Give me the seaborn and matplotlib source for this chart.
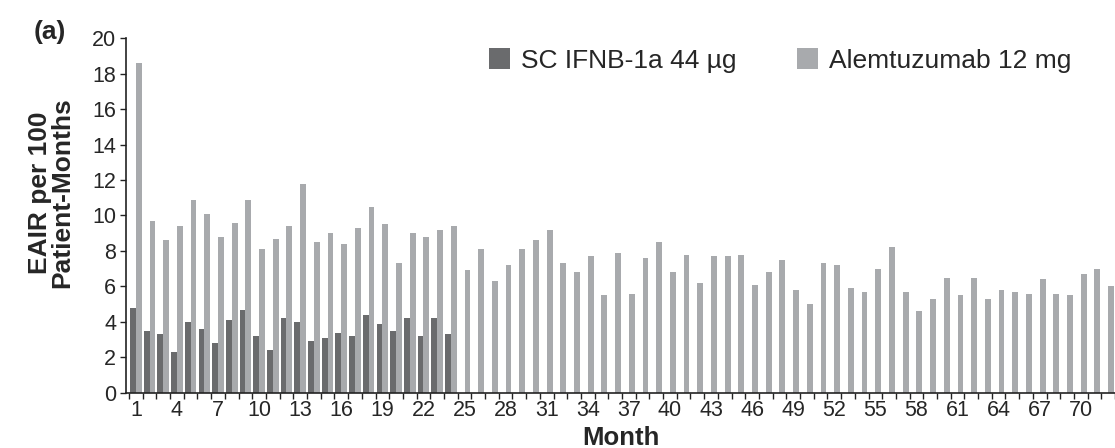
import numpy as np
import pandas as pd
import matplotlib
matplotlib.use("Agg")
import matplotlib.pyplot as plt
from matplotlib.ticker import FixedLocator
import seaborn as sns

# ── Data ────────────────────────────────────────────────────────────────────
MONTHS = list(range(1, 73))

IFNB = [4.8, 3.5, 3.3, 2.3, 4.0, 3.6, 2.8, 4.1, 4.7, 3.2, 2.4, 4.2,
        4.0, 2.9, 3.1, 3.4, 3.2, 4.4, 3.9, 3.5, 4.2, 3.2, 4.2, 3.3]

ALEM = [18.6, 9.7, 8.6, 9.4, 10.9, 10.1, 8.8, 9.6, 10.9, 8.1, 8.7, 9.4,
        11.8, 8.5, 9.0, 8.4, 9.3, 10.5, 9.5, 7.3, 9.0, 8.8, 9.2, 9.4,
        6.9, 8.1, 6.3, 7.2, 8.1, 8.6, 9.2, 7.3, 6.8, 7.7, 5.5, 7.9,
        5.6, 7.6, 8.5, 6.8, 7.8, 6.2, 7.7, 7.7, 7.8, 6.1, 6.8, 7.5,
        5.8, 5.0, 7.3, 7.2, 5.9, 5.7, 7.0, 8.2, 5.7, 4.6, 5.3, 6.5,
        5.5, 6.5, 5.3, 5.8, 5.7, 5.6, 6.4, 5.6, 5.5, 6.7, 7.0, 6.0]

SERIES = ["SC IFNB-1a 44 µg", "Alemtuzumab 12 mg"]
PALETTE = {SERIES[0]: "#6a6b6d", SERIES[1]: "#a8aaad"}
TICK_LABELS = [str(m) for m in MONTHS[::3]]

df = pd.concat([
    pd.DataFrame({"Month": MONTHS[:len(IFNB)], "EAIR": IFNB, "Group": SERIES[0]}),
    pd.DataFrame({"Month": MONTHS, "EAIR": ALEM, "Group": SERIES[1]}),
], ignore_index=True)

# ── Plot ────────────────────────────────────────────────────────────────────
sns.set_style("white")
plt.rcParams["font.family"] = ["Liberation Sans", "DejaVu Sans"]

fig = plt.figure(figsize=(11.15, 4.48), dpi=100)
ax = fig.add_axes([0.113, 0.123, 0.887, 0.792])

sns.barplot(data=df, x="Month", y="EAIR", hue="Group", hue_order=SERIES,
            palette=PALETTE, errorbar=None, width=0.85, saturation=1,
            linewidth=0, ax=ax)

ax.set_ylim(0, 20)
ax.set_yticks(np.arange(0, 21, 2))
ax.set_xlim(-0.72, 71.5)

# labels every 3 months, tick marks at every category boundary
ax.xaxis.set_major_locator(FixedLocator(np.arange(0, 72, 3)))
ax.set_xticklabels(TICK_LABELS)
ax.xaxis.set_minor_locator(FixedLocator(np.arange(-0.5, 72, 1)))
ax.tick_params(axis="x", which="major", length=0, pad=5, labelsize=15.5)
ax.tick_params(axis="x", which="minor", length=4, width=1, color="#222222",
               direction="out", bottom=True)
ax.tick_params(axis="y", length=4, width=1, color="#222222", direction="out",
               left=True, pad=3, labelsize=15.5)

for side in ["top", "right"]:
    ax.spines[side].set_visible(False)
for side in ["left", "bottom"]:
    ax.spines[side].set_color("#222222")
    ax.spines[side].set_linewidth(1.2)

ax.set_xlabel("Month", fontsize=18.5, fontweight="bold")
ax.xaxis.set_label_coords(0.5, -0.093)
ax.set_ylabel("EAIR per 100\nPatient-Months", fontsize=19, fontweight="bold",
              linespacing=0.95)
ax.yaxis.set_label_coords(-0.052, 0.565)

handles, labels = ax.get_legend_handles_labels()
ax.legend(handles, labels, loc="upper left", bbox_to_anchor=(0.343, 1.038),
          ncol=2, frameon=False, fontsize=19, handlelength=0.8,
          handleheight=0.8, handletextpad=0.4, columnspacing=2.3)

fig.text(0.045, 0.928, "(a)", fontsize=19, fontweight="bold",
         ha="center", va="center")

fig.savefig("out.png", dpi=100)
